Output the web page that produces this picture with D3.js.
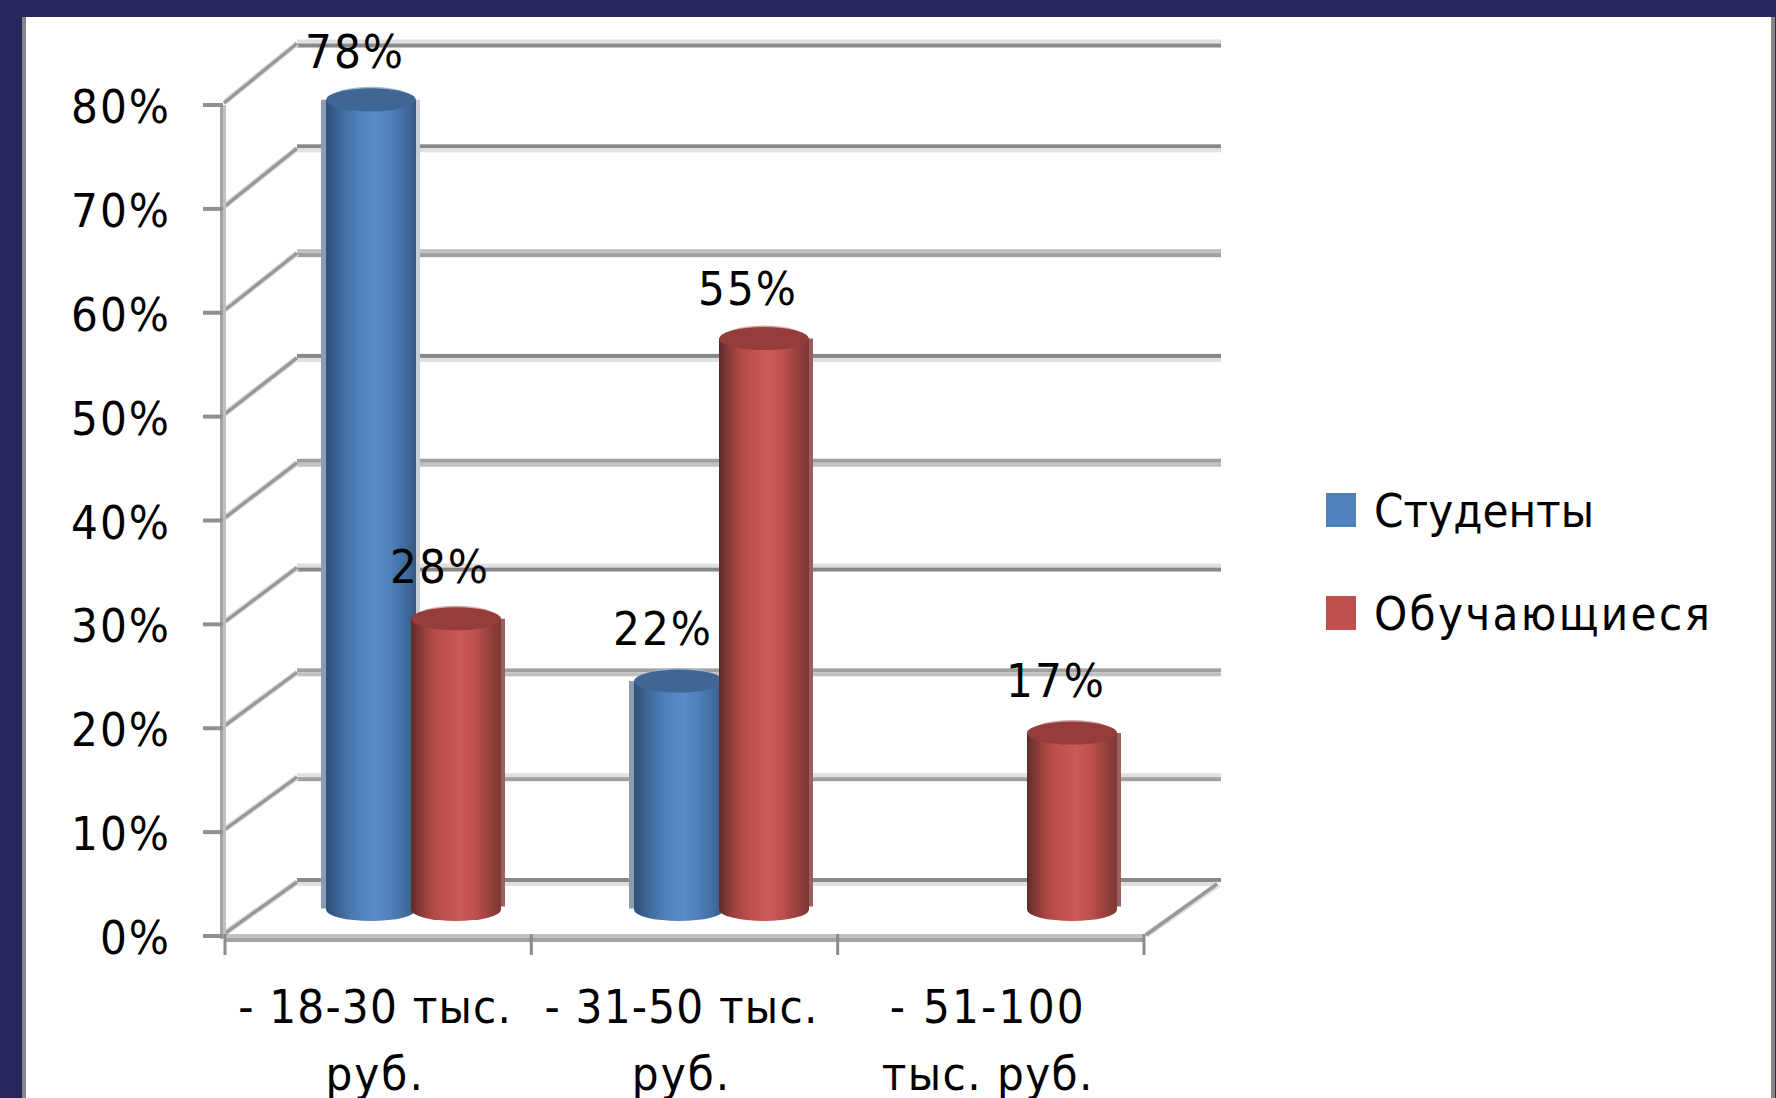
<!DOCTYPE html>
<html>
<head>
<meta charset="utf-8">
<script src="https://cdn.jsdelivr.net/npm/d3@7/dist/d3.min.js"></script>
<style>
html,body{margin:0;padding:0;background:#fff;overflow:hidden}
svg{display:block}
text{font-family:"DejaVu Sans Condensed","DejaVu Sans",sans-serif;font-stretch:condensed;fill:#000}
</style>
</head>
<body>
<svg id="c" width="1776" height="1098"></svg>
<script>
const categories = ["- 18-30 тыс. руб.", "- 31-50 тыс. руб.", "- 51-100 тыс. руб."];
const categoryLines = [["- 18-30 тыс.", "руб."], ["- 31-50 тыс.", "руб."], ["- 51-100", "тыс. руб."]];
const seriesNames = ["Студенты", "Обучающиеся"];
const students = [78, 22, null];
const learners = [28, 55, 17];
const yTicks = [0, 10, 20, 30, 40, 50, 60, 70, 80];

const W = 1776, H = 1098;
const svg = d3.select("#c");
const navy = "#28275c";
const tones = {80:["#e0e0e0","#888"],70:["#888","#e0e0e0"],60:["#c0c0c0","#a0a0a0"],50:["#888","#e0e0e0"],
  40:["#a0a0a0","#c0c0c0"],30:["#e0e0e0","#888"],20:["#a0a0a0","#c0c0c0"],10:["#e0e0e0","#a0a0a0"],0:["#888","#e0e0e0"]};
const catSpacing = [[1.2,2],[1.2,2],[2.2,1.4]];
const legendSpacing = [0,2.3];

// frame
svg.append("rect").attr("width",W).attr("height",H).attr("fill","#fff");
svg.append("rect").attr("x",22).attr("y",17).attr("width",4).attr("height",H).attr("fill","#868686");
svg.append("rect").attr("x",1771).attr("y",17).attr("width",4).attr("height",H).attr("fill","#868686");
svg.append("rect").attr("width",W).attr("height",17).attr("fill",navy);
svg.append("rect").attr("width",22).attr("height",H).attr("fill",navy);
svg.append("rect").attr("x",1775).attr("width",1).attr("height",H).attr("fill",navy);

// scales
const yFront = d3.scaleLinear().domain([0,80]).range([936,105]);
const yBack  = d3.scaleLinear().domain([0,80]).range([882,43.5]);
const yBar   = d3.scaleLinear().domain([0,80]).range([909.5,79]);
const yLabel = d3.scaleLinear().domain([0,80]).range([872,47.4]);
const xAxis  = d3.scaleBand().domain(categories).range([225,1144]);
const xBars  = d3.scaleBand().domain(categories).range([222,1146]);
const xInner = d3.scaleBand().domain(seriesNames).range([104,274]);
const barW = xInner.bandwidth()+5, ry = 11.5;
const backLeft = 297, backRight = 1221, frontLeft = 222;

// gradients
const defs = svg.append("defs");
function grad(id, stops){
  const g = defs.append("linearGradient").attr("id",id).attr("x1",0).attr("x2",1).attr("y1",0).attr("y2",0);
  stops.forEach(s=>g.append("stop").attr("offset",s[0]).attr("stop-color",s[1]));
}
grad("gBlue",[[0,"#2f5179"],[.08,"#355a87"],[.2,"#41709f"],[.35,"#4f80ba"],[.55,"#5a8cca"],[.72,"#4f7fb9"],[.88,"#416d9f"],[1,"#345880"]]);
grad("gRed",[[0,"#5f2a2a"],[.08,"#7c3635"],[.2,"#a84644"],[.35,"#c0504d"],[.55,"#cc5a56"],[.72,"#bd4f4c"],[.88,"#94403e"],[1,"#7d3636"]]);

// walls and gridlines
const wall = svg.append("g");
yTicks.forEach(t=>{
  const y = yBack(t), tn = tones[t];
  wall.append("rect").attr("x",backLeft).attr("y",y-4).attr("width",backRight-backLeft).attr("height",4).attr("fill",tn[0]);
  wall.append("rect").attr("x",backLeft).attr("y",y).attr("width",backRight-backLeft-(t===0?4:0)).attr("height",4).attr("fill",tn[1]);
  wall.append("line").attr("x1",frontLeft+3).attr("y1",yFront(t)-3).attr("x2",backLeft).attr("y2",y)
    .attr("stroke","#e2e2e2").attr("stroke-width",6);
  wall.append("line").attr("x1",frontLeft+2).attr("y1",yFront(t)-2).attr("x2",backLeft).attr("y2",y)
    .attr("stroke","#999").attr("stroke-width",3.5);
});
// floor, right side
wall.append("line").attr("x1",1146).attr("y1",935).attr("x2",backRight-2).attr("y2",yBack(0)+2).attr("stroke","#e2e2e2").attr("stroke-width",6);
wall.append("line").attr("x1",1146).attr("y1",935).attr("x2",backRight-4).attr("y2",yBack(0)+2).attr("stroke","#999").attr("stroke-width",3.5);
// vertical axis
wall.append("rect").attr("x",220).attr("y",yFront(80)).attr("width",3).attr("height",yFront(0)-yFront(80)+3).attr("fill","#a4a4a4");
wall.append("rect").attr("x",223).attr("y",yFront(80)).attr("width",3).attr("height",yFront(0)-yFront(80)+3).attr("fill","#c0c0c0");
// front floor edge
wall.append("rect").attr("x",225).attr("y",934).attr("width",919).attr("height",4).attr("fill","#c2c2c2");
wall.append("rect").attr("x",225).attr("y",938).attr("width",919).attr("height",4).attr("fill","#a2a2a2");

// ticks
yTicks.forEach(t=>{
  wall.append("rect").attr("x",203).attr("y",yFront(t)-2).attr("width",20).attr("height",4).attr("fill","#909090");
});
xAxis.domain().concat([null]).forEach(c=>{
  const x = c===null ? xAxis.range()[1] : xAxis(c);
  wall.append("rect").attr("x",x-1.5).attr("y",934).attr("width",3).attr("height",21).attr("fill","#8c8c8c");
});

// y labels
svg.append("g").selectAll("text").data(yTicks).join("text")
  .attr("x",171).attr("y",d=>yFront(d)+18).attr("text-anchor","end").attr("font-size",47)
  .attr("letter-spacing",2).text(d=>d+"%");

// bars
const seriesData = [
  {name:seriesNames[0], values:students, fill:"url(#gBlue)", top:"#3f6694", rim:"#a6b8cf", left:"#8c9bb0", right:"#c8ced8", shL:true},
  {name:seriesNames[1], values:learners, fill:"url(#gRed)", top:"#953d3b", rim:"#d2a5a3", left:"#5f2a2a", right:"#9a6060", shL:false}
];
const bars = svg.append("g");
const labels = [];
seriesData.forEach(s=>{
  categories.forEach((c,i)=>{
    const v = s.values[i];
    if(v==null) return;
    const x = xBars(c)+xInner(s.name), yT = yBar(v), yB = yBar(0), cx = x+barW/2;
    const g = bars.append("g");
    g.append("rect").attr("x",x+barW-4).attr("y",yT).attr("width",8).attr("height",yB-yT-3).attr("fill",s.right);
    if(s.shL) g.append("rect").attr("x",x-5).attr("y",yT).attr("width",8).attr("height",yB-yT-1).attr("fill",s.left);
    g.append("path").attr("fill",s.fill)
      .attr("d",`M${x},${yT}L${x},${yB}A${barW/2},${ry} 0 0 0 ${x+barW},${yB}L${x+barW},${yT}Z`);
    g.append("ellipse").attr("cx",cx).attr("cy",yT-1.5).attr("rx",barW/2-4).attr("ry",ry).attr("fill",s.rim);
    g.append("ellipse").attr("cx",cx).attr("cy",yT).attr("rx",barW/2).attr("ry",ry).attr("fill",s.top);
    labels.push({v,cx});
  });
});

// value labels
svg.append("g").selectAll("text").data(labels).join("text")
  .attr("x",d=>d.cx-16).attr("y",d=>yLabel(d.v)).attr("text-anchor","middle").attr("font-size",47)
  .attr("letter-spacing",2).text(d=>d.v+"%");

// category labels
const cl = svg.append("g");
categories.forEach((c,i)=>{
  categoryLines[i].forEach((ln,j)=>{
    cl.append("text").attr("x",xAxis(c)+xAxis.bandwidth()/2-3).attr("y",1023+j*67)
      .attr("text-anchor","middle").attr("font-size",47).attr("letter-spacing",catSpacing[i][j]).text(ln);
  });
});

// legend
const lg = svg.append("g");
const legendY = d3.scalePoint().domain(seriesNames).range([493,596]);
seriesData.forEach((s,i)=>{
  const y = legendY(s.name);
  lg.append("rect").attr("x",1326).attr("y",y).attr("width",30).attr("height",34)
    .attr("fill",s.name===seriesNames[0]?"#4f81bd":"#c0504d");
  lg.append("text").attr("x",1374).attr("y",y+34).attr("font-size",47).attr("letter-spacing",legendSpacing[i]).text(s.name);
});
</script>
</body>
</html>
